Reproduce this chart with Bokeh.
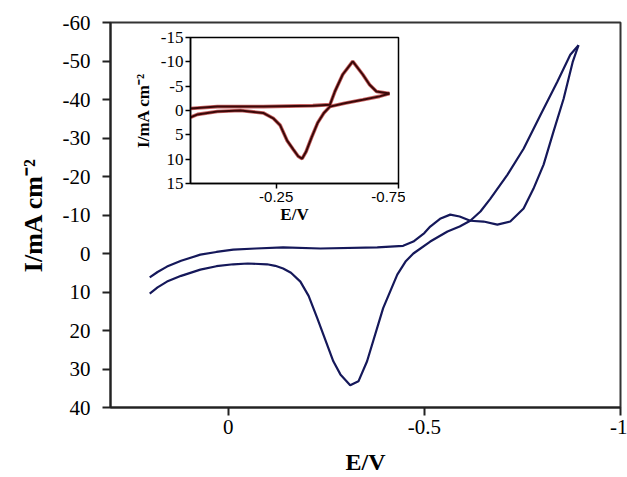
from bokeh.plotting import figure
from bokeh.layouts import column
from bokeh.models import Range1d, FixedTicker
from bokeh.embed import file_html
from bokeh.resources import INLINE

# ---------------- data ----------------
# main CV: forward (cathodic) scan
E_fwd = [0.20, 0.18, 0.156, 0.12, 0.071, 0.03, -0.013, -0.07, -0.14, -0.235, -0.38, -0.446, -0.472,
         -0.50, -0.515, -0.54, -0.566, -0.59, -0.617, -0.651, -0.686, -0.719, -0.753, -0.778,
         -0.804, -0.829, -0.855, -0.878, -0.893]
I_fwd = [6.2, 4.8, 3.4, 1.9, 0.3, -0.4, -1.0, -1.3, -1.6, -1.3, -1.6, -2.0, -3.1,
         -5.3, -7.0, -9.0, -10.1, -9.6, -8.5, -8.3, -7.5, -8.3, -11.7, -16.8,
         -23.1, -31.6, -40.2, -49.7, -54.1]
# main CV: reverse (anodic) scan
E_rev = [-0.893, -0.872, -0.839, -0.796, -0.753, -0.712, -0.668, -0.643, -0.617, -0.59, -0.559,
         -0.515, -0.472, -0.452, -0.431, -0.395, -0.354, -0.332, -0.311, -0.286, -0.268, -0.227,
         -0.205, -0.184, -0.16, -0.14, -0.12, -0.099, -0.05, -0.013, 0.03, 0.071, 0.12, 0.156,
         0.18, 0.20]
I_rev = [-54.1, -51.6, -44.6, -36.0, -27.2, -20.5, -14.2, -10.9, -8.5, -7.0, -5.7,
         -3.1, 0.0, 2.1, 5.5, 14.2, 28.0, 33.2, 34.2, 31.4, 28.0, 16.8,
         11.0, 7.3, 5.0, 3.9, 3.2, 2.8, 2.6, 2.8, 3.3, 4.2, 5.8, 7.3,
         8.8, 10.4]

# inset CV
E_in_fwd = [0.10, -0.01, -0.197, -0.40, -0.47, -0.49, -0.522, -0.563, -0.604, -0.632, -0.66, -0.713]
I_in_fwd = [-0.4, -0.8, -0.8, -1.0, -1.2, -3.9, -7.4, -10.1, -7.4, -5.3, -3.9, -3.5]
E_in_rev = [-0.713, -0.673, -0.604, -0.53, -0.47, -0.445, -0.42, -0.395, -0.372, -0.356, -0.34,
            -0.32, -0.295, -0.266, -0.238, -0.197, -0.104, -0.01, 0.071, 0.10]
I_in_rev = [-3.5, -2.9, -2.2, -1.5, -0.8, 0.5, 2.5, 5.5, 8.5, 9.9, 9.4,
            8.0, 6.2, 3.0, 1.6, 0.5, 0.0, 0.2, 0.8, 1.4]

main_x_ticks = [0, -0.5, -1]
main_x_labels = ["0", "-0.5", "-1"]
main_y_ticks = [-60, -50, -40, -30, -20, -10, 0, 10, 20, 30, 40]
main_y_labels = ["-60", "-50", "-40", "-30", "-20", "-10", "0", "10", "20", "30", "40"]
inset_x_ticks = [-0.25, -0.75]
inset_x_labels = ["-0.25", "-0.75"]
inset_y_ticks = [-15, -10, -5, 0, 5, 10, 15]
inset_y_labels = ["-15", "-10", "-5", "0", "5", "10", "15"]

SERIF = "Liberation Serif"

# ---------------- main figure ----------------
p = figure(width=627, height=477, output_backend="svg", toolbar_location=None,
           x_range=Range1d(0.3, -1.0), y_range=Range1d(40, -60),
           min_border_left=110, min_border_right=7, min_border_top=22, min_border_bottom=69)
p.background_fill_color = "white"
p.border_fill_color = "white"
p.outline_line_color = "#333333"
p.outline_line_width = 2
p.xgrid.visible = False
p.ygrid.visible = False

p.line(E_fwd, I_fwd, line_color="#15185a", line_width=2.2)
p.line(E_rev, I_rev, line_color="#15185a", line_width=2.2)

p.xaxis.ticker = FixedTicker(ticks=main_x_ticks, minor_ticks=[])
p.xaxis.major_label_overrides = dict(zip(main_x_ticks, main_x_labels))
p.yaxis.ticker = FixedTicker(ticks=main_y_ticks, minor_ticks=[])
p.yaxis.major_label_overrides = dict(zip(main_y_ticks, main_y_labels))
for ax in (p.xaxis[0], p.yaxis[0]):
    ax.axis_line_width = 2
    ax.axis_line_color = "#222222"
    ax.major_tick_line_width = 2
    ax.major_tick_line_color = "#222222"
    ax.major_tick_in = 0
    ax.major_tick_out = 8
    ax.minor_tick_out = 0
    ax.minor_tick_in = 0
    ax.major_label_text_font = SERIF
    ax.major_label_text_font_size = "21px"
    ax.major_label_text_color = "black"
    ax.axis_label_text_font = SERIF
    ax.axis_label_text_font_style = "bold"
    ax.axis_label_text_color = "black"
p.xaxis.axis_label = "E/V"
p.xaxis.axis_label_text_font_size = "24px"
p.yaxis.axis_label = "I/mA cm⁻²"
p.yaxis.axis_label_text_font_size = "26px"
p.xaxis.major_label_standoff = 4
p.xaxis.axis_label_standoff = 12
p.yaxis.major_label_standoff = 12
p.yaxis.axis_label_standoff = 12

# ---------------- inset figure ----------------
# left/right borders equal to the main figure's, since a column aligns them
q = figure(width=325, height=201, output_backend="svg", toolbar_location=None,
           x_range=Range1d(0.1, -0.75), y_range=Range1d(15, -15),
           min_border_left=110, min_border_right=7, min_border_top=10, min_border_bottom=45,
           styles={"position": "absolute", "left": "80px", "top": "27px"})
q.background_fill_color = "white"
q.border_fill_alpha = 0
q.outline_line_color = "black"
q.outline_line_width = 1.5
q.xgrid.visible = False
q.ygrid.visible = False

q.line(E_in_fwd, I_in_fwd, line_color="#b83a3a", line_width=3.6, line_alpha=0.8)
q.line(E_in_rev, I_in_rev, line_color="#b83a3a", line_width=3.6, line_alpha=0.8)
q.line(E_in_fwd, I_in_fwd, line_color="#3a0808", line_width=2)
q.line(E_in_rev, I_in_rev, line_color="#3a0808", line_width=2)

q.xaxis.ticker = FixedTicker(ticks=inset_x_ticks, minor_ticks=[])
q.xaxis.major_label_overrides = dict(zip(inset_x_ticks, inset_x_labels))
q.yaxis.ticker = FixedTicker(ticks=inset_y_ticks, minor_ticks=[])
q.yaxis.major_label_overrides = dict(zip(inset_y_ticks, inset_y_labels))
for ax in (q.xaxis[0], q.yaxis[0]):
    ax.axis_line_width = 1.5
    ax.axis_line_color = "black"
    ax.major_tick_line_width = 1.5
    ax.major_tick_line_color = "black"
    ax.major_tick_in = 0
    ax.major_tick_out = 5
    ax.minor_tick_out = 0
    ax.minor_tick_in = 0
    ax.major_label_text_color = "black"
    ax.axis_label_text_font = SERIF
    ax.axis_label_text_font_style = "bold"
    ax.axis_label_text_font_size = "17px"
    ax.axis_label_text_color = "black"
q.xaxis.major_label_text_font = "Liberation Sans"
q.xaxis.major_label_text_font_size = "15px"
q.yaxis.major_label_text_font = SERIF
q.yaxis.major_label_text_font_size = "17px"
q.xaxis.axis_label = "E/V"
q.yaxis.axis_label = "I/mA cm⁻²"
q.xaxis.major_label_standoff = 3
q.xaxis.axis_label_standoff = 0
q.yaxis.major_label_standoff = 2
q.yaxis.axis_label_standoff = 5

layout = column(p, q)

open("out.html", "w").write(file_html(layout, INLINE))
